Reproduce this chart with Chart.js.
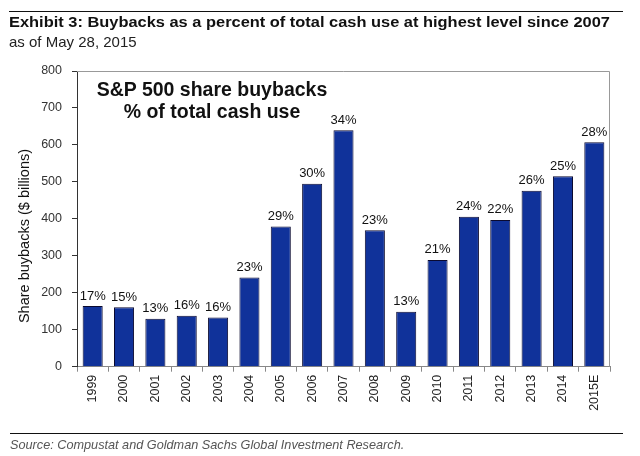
<!DOCTYPE html>
<html>
<head>
<meta charset="utf-8">
<script src="https://cdn.jsdelivr.net/npm/chart.js@4.4.1/dist/chart.umd.min.js"></script>
<style>
  body { margin: 0; background: #fff; }
  #wrap { position: relative; width: 640px; height: 456px; overflow: hidden; font-family: "Liberation Sans", Arial, sans-serif; color: #111; }
  #chart { position: absolute; left: 0; top: 0; }
  .rule { position: absolute; left: 9px; width: 614px; height: 0; border-top: 1.5px solid #111; }
  #title { position: absolute; left: 9px; top: 14px; font-size: 15px; line-height: 15px; font-weight: bold; white-space: nowrap; transform-origin: 0 0; }
  #subtitle { position: absolute; left: 9px; top: 34px; font-size: 15px; line-height: 15px; white-space: nowrap; color: #222; }
  #inset { position: absolute; left: 92px; top: 79px; width: 240px; text-align: center; font-size: 19.5px; line-height: 21.5px; font-weight: bold; }
  #ytitle { position: absolute; left: -96px; top: 228px; width: 240px; text-align: center; font-size: 14.5px; line-height: 16px; transform: rotate(-90deg); white-space: nowrap; }
  #source { position: absolute; left: 10px; top: 438.5px; font-size: 12.7px; line-height: 12px; font-style: italic; color: #555; white-space: nowrap; }
</style>
</head>
<body>
<div id="wrap">
  <canvas id="chart" width="640" height="456"></canvas>
  <div class="rule" style="top:11px"></div>
  <div id="title">Exhibit 3: Buybacks as a percent of total cash use at highest level since 2007</div>
  <div id="subtitle">as of May 28, 2015</div>
  <div id="inset">S&amp;P 500 share buybacks<br>% of total cash use</div>
  <div id="ytitle">Share buybacks ($ billions)</div>
  <div class="rule" style="top:433px; left:10px; width:613px; border-top-width:1px"></div>
  <div id="source">Source: Compustat and Goldman Sachs Global Investment Research.</div>
</div>
<script>
const years = ["1999", "2000", "2001", "2002", "2003", "2004", "2005", "2006", "2007",
               "2008", "2009", "2010", "2011", "2012", "2013", "2014", "2015E"];
const buybacks = [164, 161, 130, 138, 133, 241, 379, 495, 640, 369, 149, 289, 406, 397, 476, 515, 607];
const cashSharePct = ["17%", "15%", "13%", "16%", "16%", "23%", "29%", "30%", "34%",
                      "23%", "13%", "21%", "24%", "22%", "26%", "25%", "28%"];
const yTicks = [0, 100, 200, 300, 400, 500, 600, 700, 800];

// stretch the headline to the width it has in the exhibit
const title = document.getElementById("title");
const w = title.getBoundingClientRect().width;
title.style.transform = "scaleX(" + (601 / w) + ")";

// percent labels above each bar
const barLabels = {
    id: "barLabels",
    afterDatasetsDraw(chart) {
        const ctx = chart.ctx;
        const meta = chart.getDatasetMeta(0);
        ctx.save();
        ctx.font = "13px 'Liberation Sans', Arial, sans-serif";
        ctx.fillStyle = "#111";
        ctx.textAlign = "center";
        ctx.textBaseline = "alphabetic";
        meta.data.forEach((bar, i) => {
            ctx.fillText(cashSharePct[i], bar.x, bar.y - 6.5);
        });
        ctx.restore();
    }
};

// grey frame on top and right of the plot
const frame = {
    id: "frame",
    afterDraw(chart) {
        const a = chart.chartArea;
        const ctx = chart.ctx;
        ctx.save();
        ctx.strokeStyle = "#999";
        ctx.lineWidth = 1;
        ctx.beginPath();
        ctx.moveTo(a.left, a.top + 0.5);
        ctx.lineTo(a.right - 0.5, a.top + 0.5);
        ctx.lineTo(a.right - 0.5, a.bottom);
        ctx.stroke();
        ctx.restore();
    }
};

new Chart(document.getElementById("chart"), {
    type: "bar",
    data: {
        labels: years,
        datasets: [{
            data: buybacks,
            backgroundColor: "#10329a",
            borderColor: "#0a0a30",
            borderWidth: 1,
            categoryPercentage: 1,
            barPercentage: 0.64
        }]
    },
    options: {
        responsive: false,
        animation: false,
        devicePixelRatio: 1,
        layout: { padding: { left: 15, top: 71, right: 30, bottom: 0 } },
        plugins: {
            legend: { display: false },
            tooltip: { enabled: false }
        },
        scales: {
            x: {
                afterFit: s => { s.height = 89.3; },
                grid: { offset: true, drawOnChartArea: false, tickLength: 5, color: "#888" },
                border: { color: "#888" },
                ticks: {
                    minRotation: 90,
                    maxRotation: 90,
                    padding: 3,
                    color: "#222",
                    font: { family: "'Liberation Sans', Arial, sans-serif", size: 12.5 }
                }
            },
            y: {
                min: 0,
                max: 800,
                afterFit: s => { s.width = 62; },
                afterBuildTicks: s => { s.ticks = yTicks.map(v => ({ value: v })); },
                grid: { drawOnChartArea: false, tickLength: 5, color: "#333" },
                border: { color: "#333" },
                ticks: {
                    padding: 10,
                    color: "#333",
                    font: { family: "'Liberation Sans', Arial, sans-serif", size: 12.5 }
                }
            }
        }
    },
    plugins: [barLabels, frame]
});
</script>
</body>
</html>
